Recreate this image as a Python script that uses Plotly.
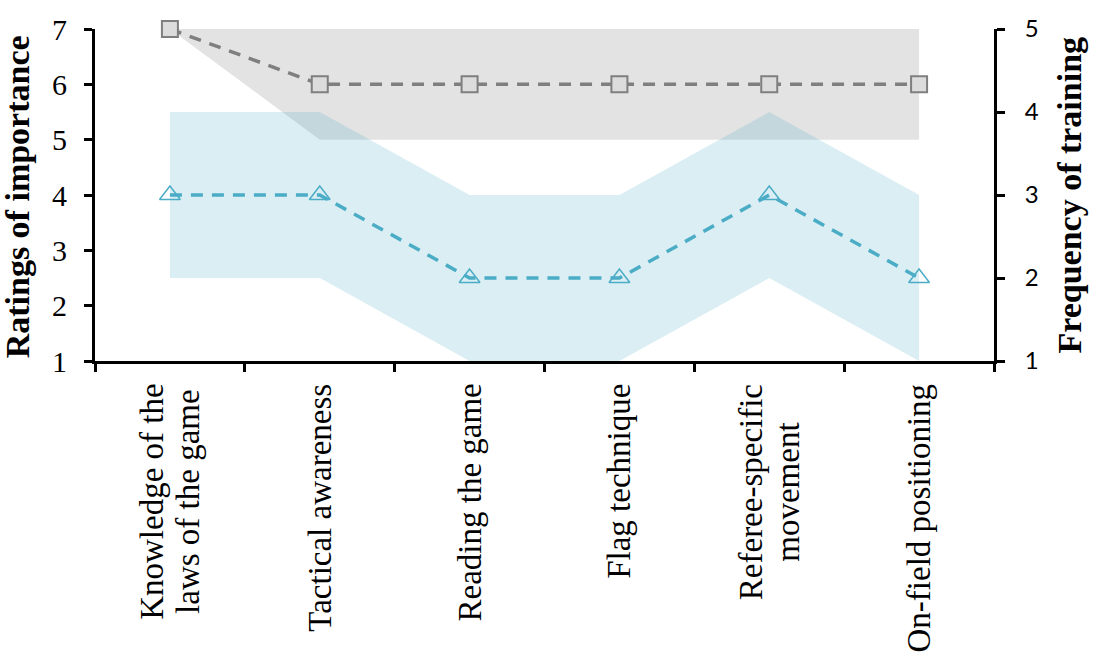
import plotly.graph_objects as go

# Skill categories along the x axis (line breaks mark wrapped labels)
categories = [
    "Knowledge of the<br>laws of the game",
    "Tactical awareness",
    "Reading the game",
    "Flag technique",
    "Referee-specific<br>movement",
    "On-field positioning",
]

# Ratings of importance (left axis): median and interquartile band
importance_median = [7, 6, 6, 6, 6, 6]
importance_low = [7, 5, 5, 5, 5, 5]
importance_high = [7, 7, 7, 7, 7, 7]

# Frequency of training (right axis): median and interquartile band
training_median = [3, 3, 2, 2, 3, 2]
training_low = [2, 2, 1, 1, 2, 1]
training_high = [4, 4, 3, 3, 4, 3]

left_ticks = [1, 2, 3, 4, 5, 6, 7]
right_ticks = [1, 2, 3, 4, 5]

GRAY_LINE = "#7f7f7f"
GRAY_BAND = "#e3e3e3"
BLUE_LINE = "#4bacc6"
BLUE_BAND = "rgba(75,172,198,0.205)"
SERIF = "Liberation Serif"
LABEL_PX = 33

x_idx = list(range(len(categories)))

fig = go.Figure()

# Importance band
fig.add_trace(go.Scatter(
    x=x_idx + x_idx[::-1],
    y=importance_high + importance_low[::-1],
    fill="toself", fillcolor=GRAY_BAND, line=dict(width=0),
    mode="lines", hoverinfo="skip", showlegend=False, yaxis="y",
))

# Importance median
fig.add_trace(go.Scatter(
    x=x_idx, y=importance_median, mode="lines+markers", yaxis="y",
    line=dict(color=GRAY_LINE, width=3.5, dash="12px,9px"),
    marker=dict(symbol="square", size=16, color="#dcdcdc",
                line=dict(color=GRAY_LINE, width=2)),
    cliponaxis=False, showlegend=False,
))

# Training band
fig.add_trace(go.Scatter(
    x=x_idx + x_idx[::-1],
    y=training_high + training_low[::-1],
    fill="toself", fillcolor=BLUE_BAND, line=dict(width=0),
    mode="lines", hoverinfo="skip", showlegend=False, yaxis="y2",
))

# Training median
fig.add_trace(go.Scatter(
    x=x_idx, y=training_median, mode="lines+markers", yaxis="y2",
    line=dict(color=BLUE_LINE, width=3.5, dash="12px,9px"),
    marker=dict(symbol="triangle-up-open", size=18,
                line=dict(color=BLUE_LINE, width=1.5)),
    cliponaxis=False, showlegend=False,
))


def sized(label):
    # wrap each line in a larger span so wrapped lines sit closer together
    return "<br>".join(
        f'<span style="font-size:{LABEL_PX}px">{part}</span>'
        for part in label.split("<br>")
    )


# Category labels, rotated and centred under each category
annotations = []
for i, lab in enumerate(categories):
    annotations.append(dict(
        x=i, xref="x", y=-0.063, yref="paper",
        text=sized(lab), textangle=-90, showarrow=False,
        xanchor="center", yanchor="top", align="center",
        font=dict(family=SERIF, size=28, color="black"),
    ))

# Axis titles
annotations.append(dict(
    x=-0.086, xref="paper", y=0.495, yref="paper",
    text="<b>Ratings of importance</b>", textangle=-90, showarrow=False,
    xanchor="center", yanchor="middle",
    font=dict(family=SERIF, size=34, color="black"),
))
annotations.append(dict(
    x=1.083, xref="paper", y=0.5, yref="paper",
    text="<b>Frequency of training</b>", textangle=-90, showarrow=False,
    xanchor="center", yanchor="middle",
    font=dict(family=SERIF, size=34, color="black"),
))

fig.update_layout(
    width=1094, height=659,
    margin=dict(l=95, r=100, t=29, b=298),
    paper_bgcolor="white", plot_bgcolor="white",
    showlegend=False,
    xaxis=dict(
        range=[-0.5, 5.5], tickmode="array",
        tickvals=[i - 0.5 for i in range(len(categories) + 1)],
        showticklabels=False, ticks="outside", ticklen=8, tickwidth=3,
        tickcolor="black", showline=True, linewidth=3, linecolor="black",
        showgrid=False, zeroline=False,
    ),
    yaxis=dict(
        range=[1, 7], tickmode="array", tickvals=left_ticks,
        ticks="outside", ticklen=8, tickwidth=3, tickcolor="black",
        showline=True, linewidth=3, linecolor="black",
        showgrid=False, zeroline=False, ticklabelstandoff=11,
        tickfont=dict(family=SERIF, size=30, color="black"),
    ),
    yaxis2=dict(
        range=[1, 5], tickmode="array", tickvals=right_ticks,
        overlaying="y", side="right",
        ticks="outside", ticklen=8, tickwidth=3, tickcolor="black",
        showline=True, linewidth=3, linecolor="black",
        showgrid=False, zeroline=False, ticklabelstandoff=15,
        tickfont=dict(family="Lato", size=24, color="black"),
    ),
    annotations=annotations,
)

fig.write_html("out.html")
